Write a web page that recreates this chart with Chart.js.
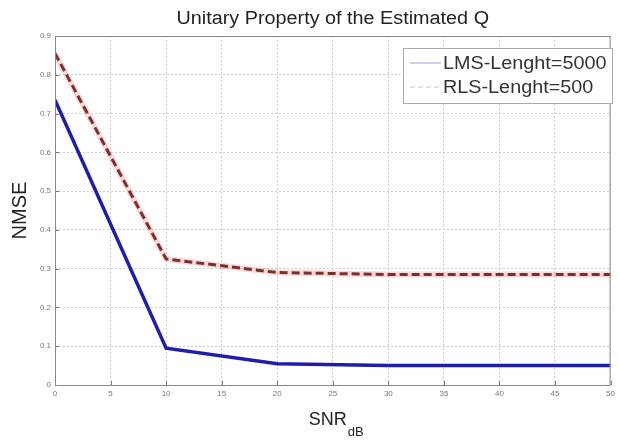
<!DOCTYPE html>
<html><head><meta charset="utf-8">
<script src="https://cdn.jsdelivr.net/npm/chart.js@4"></script>
<style>html,body{margin:0;padding:0;background:#fff}#w{width:619px;height:441px}</style>
</head><body><div id="w"><canvas id="c" width="619" height="441"></canvas></div>
<script>
const snr = [0, 10, 20, 30, 40, 50];
const lms = [0.735, 0.095, 0.055, 0.05, 0.05, 0.05];
const rls = [0.855, 0.325, 0.29, 0.285, 0.285, 0.285];
const xTicks = [0,5,10,15,20,25,30,35,40,45,50];
const yTicks = [0,0.1,0.2,0.3,0.4,0.5,0.6,0.7,0.8,0.9];
const legendLabels = ['LMS-Lenght=5000', 'RLS-Lenght=500'];
const titleText = 'Unitary Property of the Estimated Q';

const pts = (ys) => snr.map((x, i) => ({x, y: ys[i]}));
const FONT = 'Arial, "Liberation Sans", sans-serif';

function stretchText(ctx, txt, x, y, sx) {
  ctx.save(); ctx.translate(x, y); ctx.scale(sx, 1); ctx.fillText(txt, 0, 0); ctx.restore();
}

const overlay = {
  id: 'overlay',
  afterDraw(chart) {
    const ctx = chart.ctx, a = chart.chartArea;
    const xs = chart.scales.x, ys = chart.scales.y;
    ctx.save();
    // inward tick marks
    ctx.strokeStyle = '#777'; ctx.lineWidth = 1;
    xTicks.forEach(v => { const px = Math.round(xs.getPixelForValue(v)) + 0.5;
      ctx.beginPath(); ctx.moveTo(px, a.bottom); ctx.lineTo(px, a.bottom - 4); ctx.stroke(); });
    yTicks.forEach(v => { const py = Math.round(ys.getPixelForValue(v)) + 0.5;
      ctx.beginPath(); ctx.moveTo(a.left, py); ctx.lineTo(a.left + 4, py); ctx.stroke(); });
    // box
    ctx.strokeStyle = '#888'; ctx.lineWidth = 1;
    ctx.strokeRect(a.left + 0.5, a.top + 0.5, a.right - a.left - 1, a.bottom - a.top);
    // title
    ctx.fillStyle = '#222'; ctx.font = '18px ' + FONT;
    ctx.textAlign = 'left'; ctx.textBaseline = 'alphabetic';
    const tw = ctx.measureText(titleText).width * 1.1;
    stretchText(ctx, titleText, (a.left + a.right) / 2 - tw / 2, 24, 1.1);
    // x title with subscript
    ctx.font = '18px ' + FONT;
    const main = 'SNR';
    const w1 = ctx.measureText(main).width;
    ctx.font = '13px ' + FONT;
    const w2 = ctx.measureText('dB').width;
    const cx = (a.left + a.right) / 2 + 3;
    const sx = cx - (w1 + w2) / 2;
    ctx.font = '18px ' + FONT;
    ctx.fillText(main, sx, 425);
    ctx.font = '13px ' + FONT;
    ctx.fillText('dB', sx + w1 + 1, 436);
    // legend
    const lx = 403, ly = 48, lw = 209, lh = 55;
    ctx.fillStyle = '#fff'; ctx.fillRect(lx, ly, lw, lh);
    ctx.strokeStyle = '#aaa'; ctx.lineWidth = 1; ctx.strokeRect(lx + 0.5, ly + 0.5, lw, lh);
    ctx.font = '18px ' + FONT;
    ctx.fillStyle = '#333'; ctx.textBaseline = 'middle';
    ctx.strokeStyle = '#9a9ad8';
    ctx.beginPath(); ctx.moveTo(410, 63); ctx.lineTo(441, 63); ctx.stroke();
    stretchText(ctx, legendLabels[0], 443, 64, 1.1);
    ctx.strokeStyle = '#c8c8c8'; ctx.setLineDash([5, 3]);
    ctx.beginPath(); ctx.moveTo(410, 87); ctx.lineTo(441, 87); ctx.stroke();
    ctx.setLineDash([]);
    stretchText(ctx, legendLabels[1], 443, 88, 1.1);
    ctx.restore();
  }
};

new Chart(document.getElementById('c'), {
  type: 'line',
  data: {
    datasets: [
      {label: 'rls-halo', data: pts(rls), borderColor: 'rgba(240,120,120,0.28)', borderWidth: 6, pointRadius: 0, tension: 0},
      {label: legendLabels[1], data: pts(rls), borderColor: '#4e1616', borderWidth: 3, borderDash: [8, 4], pointRadius: 0, tension: 0},
      {label: legendLabels[0], data: pts(lms), borderColor: '#1e1eaa', borderWidth: 3.5, pointRadius: 0, tension: 0}
    ]
  },
  options: {
    responsive: false, animation: false,
    layout: {padding: {top: 36, right: 5, left: 0, bottom: 0}},
    plugins: {legend: {display: false}, title: {display: false}, tooltip: {enabled: false}},
    scales: {
      x: {
        type: 'linear', min: 0, max: 50,
        afterBuildTicks: (s) => { s.ticks = xTicks.map(v => ({value: v})); },
        afterFit: (s) => { s.height = 56; },
        grid: {color: '#cfcfcf', drawTicks: false},
        border: {display: false, dash: [2, 2]},
        ticks: {color: '#777', font: {size: 8, family: FONT}, padding: 4, maxRotation: 0, autoSkip: false}
      },
      y: {
        min: 0, max: 0.9,
        afterBuildTicks: (s) => { s.ticks = yTicks.map(v => ({value: v})); },
        afterFit: (s) => { s.width = 55; },
        grid: {color: '#cfcfcf', drawTicks: false},
        border: {display: false, dash: [2, 2]},
        ticks: {color: '#777', font: {size: 8, family: FONT}, padding: 4, autoSkip: false,
          callback: (v) => String(Math.round(v * 10) / 10)},
        title: {display: true, text: 'NMSE', color: '#222', font: {size: 20, family: FONT}, padding: {top: 8, bottom: 0}}
      }
    }
  },
  plugins: [overlay]
});
</script>
</body></html>
